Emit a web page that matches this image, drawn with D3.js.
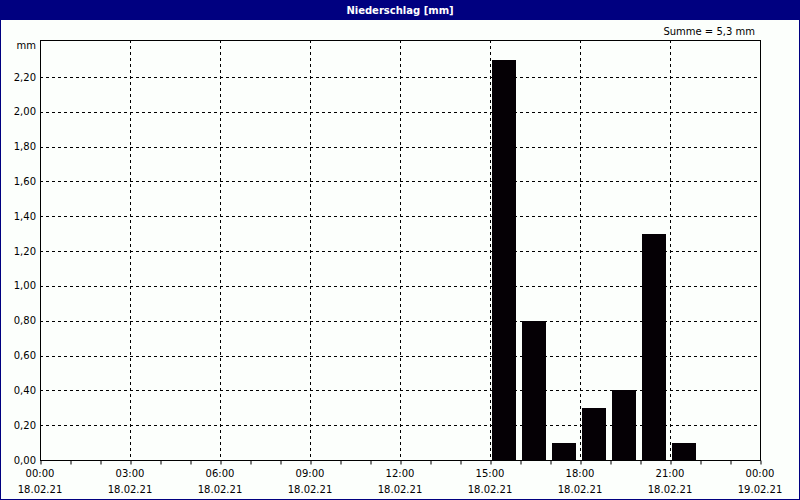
<!DOCTYPE html>
<html><head><meta charset="utf-8">
<script src="https://cdn.jsdelivr.net/npm/d3@7"></script>
<style>body{margin:0;background:#fff}svg{display:block}text{font-family:"DejaVu Sans",sans-serif;font-size:10px}</style>
</head><body>
<script>
const title = "Niederschlag [mm]";
const sumLabel = "Summe = 5,3 mm";
const unitLabel = "mm";
const barHours = [15, 16, 17, 18, 19, 20, 21];
const barValues = [2.3, 0.8, 0.1, 0.3, 0.4, 1.3, 0.1];
const yTicks = [0, 0.2, 0.4, 0.6, 0.8, 1.0, 1.2, 1.4, 1.6, 1.8, 2.0, 2.2];
const xTickHours = [0, 3, 6, 9, 12, 15, 18, 21, 24];
const xTimeLabels = ["00:00","03:00","06:00","09:00","12:00","15:00","18:00","21:00","00:00"];
const xDateLabels = ["18.02.21","18.02.21","18.02.21","18.02.21","18.02.21","18.02.21","18.02.21","18.02.21","19.02.21"];

const W = 800, H = 500;
const svg = d3.select("body").append("svg").attr("width", W).attr("height", H);
svg.append("rect").attr("width", W).attr("height", H).attr("fill", "#fcfffc");
svg.append("rect").attr("x", 0.5).attr("y", 0.5).attr("width", W - 1).attr("height", H - 1)
  .attr("fill", "none").attr("stroke", "#000080").attr("stroke-width", 1);
svg.append("rect").attr("x", 0).attr("y", 0).attr("width", W).attr("height", 20).attr("fill", "#000080");
svg.append("text").attr("x", W / 2).attr("y", 10).attr("dy", "0.35em").attr("text-anchor", "middle")
  .attr("fill", "#fff").attr("font-weight", "bold").text(title);

const L = 40, R = 760, T = 40, B = 460;
const x = d3.scaleLinear().domain([0, 24]).range([L, R]);
const y = d3.scaleLinear().domain([0, 2.2]).range([B, 77]);
const fmt = v => d3.format(".2f")(v).replace(".", ",");

const g = svg.append("g");
g.selectAll("line.hg").data(yTicks.filter(v => v > 0)).enter().append("line")
  .attr("x1", L).attr("x2", R).attr("y1", d => Math.round(y(d)) + 0.5).attr("y2", d => Math.round(y(d)) + 0.5)
  .attr("stroke", "#000").attr("stroke-dasharray", "3,3");
g.selectAll("line.vg").data(xTickHours.filter(h => h > 0 && h < 24)).enter().append("line")
  .attr("x1", d => Math.round(x(d)) + 0.5).attr("x2", d => Math.round(x(d)) + 0.5).attr("y1", T).attr("y2", B)
  .attr("stroke", "#000").attr("stroke-dasharray", "3,3");

const bw = x(1) - x(0);
g.selectAll("rect.bar").data(barValues).enter().append("rect")
  .attr("x", (d, i) => x(barHours[i]) + 2).attr("width", bw - 6)
  .attr("y", d => Math.round(y(d))).attr("height", d => B - Math.round(y(d))).attr("fill", "#050005");

svg.append("rect").attr("x", L + 0.5).attr("y", T + 0.5).attr("width", R - L).attr("height", B - T)
  .attr("fill", "none").attr("stroke", "#000").attr("stroke-width", 1);

const xAxis = d3.axisBottom(x).tickValues(d3.range(0, 25)).tickSize(4).tickFormat("");
const xa = svg.append("g").attr("transform", `translate(0.5,${B + 0.5})`).call(xAxis);
xa.select(".domain").remove();
xa.selectAll("line").attr("stroke", "#000");

svg.selectAll("text.xt").data(xTickHours).enter().append("text")
  .attr("x", d => x(d)).attr("y", 473).attr("dy", "0.35em").attr("text-anchor", "middle")
  .attr("fill", "#000").text((d, i) => xTimeLabels[i]);
svg.selectAll("text.xd").data(xTickHours).enter().append("text")
  .attr("x", d => x(d)).attr("y", 489).attr("dy", "0.35em").attr("text-anchor", "middle")
  .attr("fill", "#000").text((d, i) => xDateLabels[i]);

svg.selectAll("text.yt").data(yTicks).enter().append("text")
  .attr("x", 36).attr("y", d => y(d)).attr("dy", "0.35em").attr("text-anchor", "end")
  .attr("fill", "#000").text(d => fmt(d));
svg.append("text").attr("x", 36).attr("y", 45).attr("dy", "0.35em").attr("text-anchor", "end")
  .attr("fill", "#000").text(unitLabel);
svg.append("text").attr("x", 755).attr("y", 31).attr("dy", "0.35em").attr("text-anchor", "end")
  .attr("fill", "#000").text(sumLabel);
</script>
</body></html>
